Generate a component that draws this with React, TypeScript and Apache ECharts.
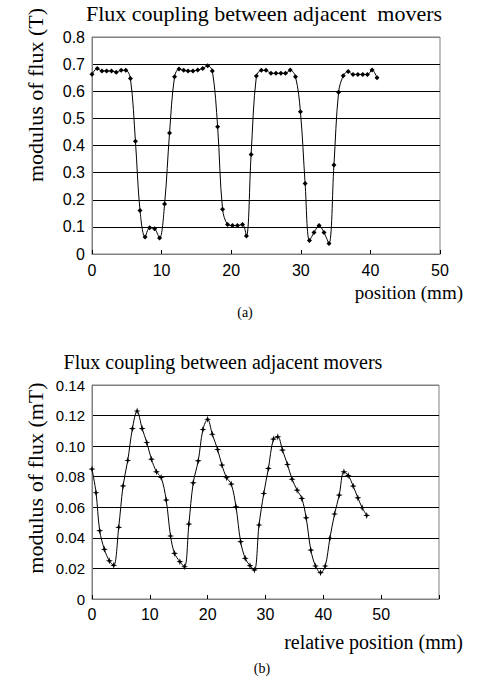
import React, { useEffect, useRef } from "react";
import * as echarts from "echarts";

// (a) Flux coupling between adjacent movers — position (mm) vs modulus of flux (T)
const topX = [0, 0.76, 1.43, 2.1, 2.8, 3.48, 4.19, 4.86, 5.52, 6.24, 6.9, 7.62, 8.29, 9.0, 9.71, 10.43, 11.14, 11.86, 12.5, 13.17, 13.8, 14.5, 15.19, 15.9, 16.62, 17.29, 18.05, 18.76, 19.48, 20.19, 20.9, 21.62, 22.19, 22.86, 23.62, 24.33, 25.0, 25.71, 26.43, 27.14, 27.8, 28.48, 29.24, 29.95, 30.62, 31.24, 31.9, 32.62, 33.33, 34.05, 34.76, 35.43, 36.1, 36.81, 37.5, 38.2, 38.9, 39.57, 40.24, 40.95];
const topY = [0.663, 0.684, 0.675, 0.675, 0.675, 0.67, 0.677, 0.677, 0.647, 0.416, 0.16, 0.063, 0.097, 0.093, 0.059, 0.184, 0.446, 0.653, 0.682, 0.677, 0.675, 0.675, 0.678, 0.684, 0.694, 0.675, 0.469, 0.165, 0.109, 0.105, 0.105, 0.109, 0.066, 0.367, 0.656, 0.677, 0.677, 0.666, 0.666, 0.666, 0.666, 0.678, 0.653, 0.524, 0.26, 0.05, 0.079, 0.105, 0.079, 0.039, 0.328, 0.596, 0.657, 0.673, 0.662, 0.662, 0.662, 0.662, 0.678, 0.65];

// (b) Flux coupling between adjacent movers — relative position (mm) vs modulus of flux (mT)
const botX = [0, 0.7, 1.33, 2.14, 3.0, 3.75, 4.62, 5.37, 6.18, 6.99, 7.8, 8.67, 9.47, 10.28, 11.15, 11.96, 12.83, 13.58, 14.27, 15.2, 16.0, 16.75, 17.5, 18.37, 19.18, 19.99, 20.8, 21.72, 22.47, 23.28, 24.08, 24.9, 25.7, 26.5, 27.32, 28.08, 28.88, 29.7, 30.5, 31.37, 32.12, 32.93, 33.8, 34.6, 35.47, 36.28, 37.03, 37.84, 38.65, 39.52, 40.33, 41.13, 41.94, 42.75, 43.56, 44.3, 45.16, 45.97, 46.72, 47.5];
const botY = [0.085, 0.0695, 0.0447, 0.0325, 0.025, 0.022, 0.0469, 0.074, 0.0906, 0.1115, 0.123, 0.1115, 0.1024, 0.0915, 0.0832, 0.0795, 0.0647, 0.0412, 0.0299, 0.0244, 0.0211, 0.049, 0.076, 0.0904, 0.1109, 0.1176, 0.1078, 0.0978, 0.0876, 0.0793, 0.0752, 0.0603, 0.0375, 0.0266, 0.0218, 0.019, 0.0484, 0.069, 0.0854, 0.1046, 0.1061, 0.0974, 0.088, 0.0784, 0.0712, 0.0658, 0.0531, 0.032, 0.0216, 0.0172, 0.0216, 0.0397, 0.0556, 0.068, 0.0832, 0.0808, 0.0739, 0.0662, 0.0597, 0.0547];

const titleA = "Flux coupling between adjacent  movers";
const titleB = "Flux coupling between adjacent movers";
const yNameA = "modulus of flux (T)";
const yNameB = "modulus of flux (mT)";
const xNameA = "position (mm)";
const xNameB = "relative position (mm)";
const captionA = "(a)";
const captionB = "(b)";

const SERIF = '"Liberation Serif", "Times New Roman", serif';
const SANS = '"Liberation Sans", Arial, sans-serif';

function text(x: number, y: number, t: string, size: number, align: string, rot = 0) {
  return {
    type: "text",
    x,
    y,
    rotation: rot,
    style: {
      text: t,
      font: `${size}px ${SERIF}`,
      fill: "#000",
      textAlign: align,
      textVerticalAlign: "middle",
      align,
      verticalAlign: "middle",
    },
  };
}

export default function App() {
  const ref = useRef<HTMLDivElement>(null);
  useEffect(() => {
    if (!ref.current) return;
    const chart = echarts.init(ref.current, undefined, { renderer: "svg" });
    const gridStyle = { show: true, borderColor: "#808080", borderWidth: 1, backgroundColor: "#fff" };
    const axisLine = { show: true, lineStyle: { color: "#808080", width: 1 } };
    const lbl = { color: "#000", fontFamily: SANS, fontSize: 16 };
    const star = "path://M5,0 L6.2,3.8 L10,5 L6.2,6.2 L5,10 L3.8,6.2 L0,5 L3.8,3.8 Z";
    chart.setOption({
      animation: false,
      backgroundColor: "#fff",
      grid: [
        { left: 92, top: 37, width: 348, height: 217, ...gridStyle },
        { left: 92, top: 385, width: 347, height: 214, ...gridStyle },
      ],
      xAxis: [
        {
          type: "value", gridIndex: 0, min: 0, max: 50, interval: 10,
          axisLine, axisTick: { show: true, inside: true, length: 4, lineStyle: { color: "#000" } },
          axisLabel: { ...lbl, margin: 8 }, splitLine: { show: false },
        },
        {
          type: "value", gridIndex: 1, min: 0, max: 60, interval: 10,
          axisLine, axisTick: { show: true, inside: true, length: 4, lineStyle: { color: "#000" } },
          axisLabel: { ...lbl, margin: 7, formatter: (v: number) => (v >= 60 ? "" : String(v)) },
          splitLine: { show: false },
        },
      ],
      yAxis: [
        {
          type: "value", gridIndex: 0, min: 0, max: 0.8, interval: 0.1,
          axisLine, axisTick: { show: false },
          axisLabel: { ...lbl, margin: 7, formatter: (v: number) => (v === 0 ? "0" : v.toFixed(1)) },
          splitLine: { show: true, lineStyle: { color: ["#808080", "#000", "#000", "#000", "#000", "#000", "#000", "#000", "#808080"], width: 1 } },
        },
        {
          type: "value", gridIndex: 1, min: 0, max: 0.14, interval: 0.02,
          axisLine, axisTick: { show: false },
          axisLabel: { ...lbl, fontSize: 15, margin: 7, formatter: (v: number) => (v === 0 ? "0" : v.toFixed(2)) },
          splitLine: { show: true, lineStyle: { color: ["#808080", "#000", "#000", "#000", "#000", "#000", "#000", "#808080"], width: 1 } },
        },
      ],
      series: [
        {
          type: "line", xAxisIndex: 0, yAxisIndex: 0,
          data: topX.map((x, i) => [x, topY[i]]),
          smooth: 0.35, symbol: "diamond", symbolSize: 5,
          lineStyle: { color: "#000", width: 1 }, itemStyle: { color: "#000" },
        },
        {
          type: "line", xAxisIndex: 1, yAxisIndex: 1,
          data: botX.map((x, i) => [x, botY[i]]),
          smooth: 0.35, symbol: star, symbolSize: 7,
          lineStyle: { color: "#000", width: 1 }, itemStyle: { color: "#000" },
        },
      ],
      graphic: [
        text(264, 13, titleA, 22, "center"),
        text(35, 95, yNameA, 22, "center", Math.PI / 2),
        text(463, 292, xNameA, 19, "right"),
        text(245, 312, captionA, 14, "center"),
        text(223, 362, titleB, 20, "center"),
        text(35, 478, yNameB, 22, "center", Math.PI / 2),
        text(463, 642, xNameB, 20, "right"),
        text(262, 668, captionB, 14, "center"),
      ],
    });
    return () => chart.dispose();
  }, []);
  return <div ref={ref} style={{ position: "absolute", left: 0, top: 0, width: 488, height: 685 }} />;
}
